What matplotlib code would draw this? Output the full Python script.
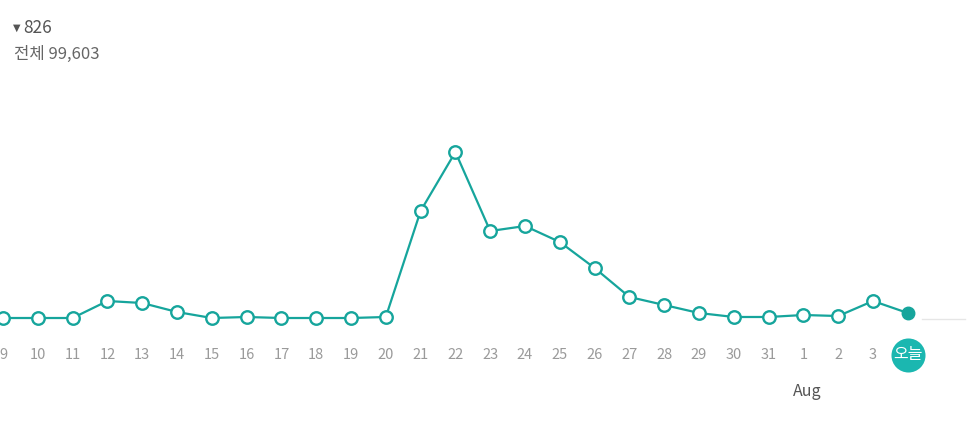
import matplotlib
matplotlib.use("Agg")
import matplotlib.pyplot as plt
import matplotlib.transforms as mtransforms

plt.rcParams['font.family'] = ['Noto Sans CJK KR', 'DejaVu Sans']

days = ['9', '10', '11', '12', '13', '14', '15', '16', '17', '18', '19', '20', '21',
        '22', '23', '24', '25', '26', '27', '28', '29', '30', '31', '1', '2', '3', '오늘']
visits = [673, 673, 673, 1193, 1132, 857, 673, 704, 673, 673, 673, 704, 3947,
          5753, 3335, 3488, 2999, 2203, 1316, 1071, 826, 704, 704, 765, 734, 1193, 826]
today_value = 826
total_value = 99603
month_label = 'Aug'

line_color = '#16a59c'
badge_color = '#1bb7b0'

W, H = 967, 438
fig = plt.figure(figsize=(W / 100, H / 100), dpi=100)
ax = fig.add_axes([0, (H - 340) / H, 1, 240 / H])
n = len(visits)
step = 34.8
x0 = 3
ax.set_xlim(-x0 / step, (W - x0) / step)
ymax = 240 * 30.6
ax.set_ylim(0, ymax)
ax.axis('off')

xs = list(range(n))
ax.plot(xs, visits, color=line_color, lw=1.6, zorder=2)
ax.plot(xs[:-1], visits[:-1], 'o', ms=9, mfc='white', mec=line_color, mew=1.7, zorder=3)
ax.plot(xs[-1:], visits[-1:], 'o', ms=9, mfc=line_color, mec=line_color, mew=1.0, zorder=3)

# faint baseline after today
ax.plot([n - 1 + 0.4, n - 1 + 1.65], [visits[0] - 20, visits[0] - 20], color='#e6e6e6', lw=1.0, zorder=1)

trans = mtransforms.blended_transform_factory(ax.transData, fig.transFigure)
label_y = 1 - 355 / H
for i, lab in enumerate(days):
    if i == n - 1:
        continue
    ax.text(i, label_y, lab, transform=trans, ha='center', va='center',
            fontsize=10.5, color='#9a9a9a')

# today badge
ax.plot([n - 1], [label_y], 'o', ms=24.5, mfc=badge_color, mec='none', transform=trans,
        clip_on=False, zorder=4)
ax.text(n - 1, label_y, days[-1], transform=trans, ha='center', va='center',
        fontsize=11.5, color='white', zorder=5)

fig.text(807 / W, 1 - 391 / H, month_label, ha='center', va='center',
         fontsize=11.5, color='#555555')

# header
fig.text(13 / W, 1 - 28 / H, '▼', fontsize=7, color='#555555', va='center', ha='left',
         family=['DejaVu Sans'])
fig.text(23 / W, 1 - 28 / H, f'{today_value:,}', fontsize=12.5, color='#555555', va='center', ha='left')
fig.text(14 / W, 1 - 54 / H, f'전체 {total_value:,}', fontsize=12, color='#666666', va='center', ha='left')

fig.savefig('out.png', dpi=100, facecolor='white')
